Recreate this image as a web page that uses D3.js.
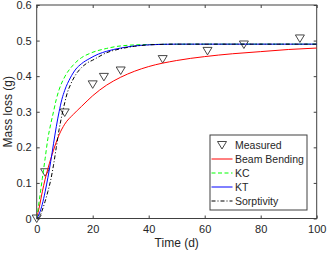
<!DOCTYPE html>
<html>
<head>
<meta charset="utf-8">
<script src="https://cdn.jsdelivr.net/npm/d3@7"></script>
<style>
  body { margin: 0; background: #fff; }
  svg { display: block; font-family: "Liberation Sans", Arial, sans-serif; }
</style>
</head>
<body>
<div id="chart"></div>
<script>
// Measured mass loss
var measuredTime = [0, 3, 10, 20, 24, 30, 45, 61, 74, 94];
var measuredLoss = [0, 0.13, 0.298, 0.377, 0.398, 0.416, 0.448, 0.471, 0.489, 0.506];

// Beam Bending model
var bbTime = [0, 1, 2, 3, 4, 5, 6, 8, 10, 13, 16, 20, 25, 30, 35, 40, 50, 60, 70, 80, 90, 100];
var bbLoss = [0, 0.035, 0.075, 0.11, 0.14, 0.167, 0.192, 0.235, 0.265, 0.292, 0.315, 0.345, 0.375, 0.397, 0.414, 0.427, 0.444, 0.455, 0.463, 0.469, 0.475, 0.479];

// KC model
var kcTime = [0, 1, 2, 3, 4, 5, 6, 7, 8, 10, 13, 16, 19, 25, 30, 40, 60, 100];
var kcLoss = [0, 0.055, 0.112, 0.168, 0.225, 0.265, 0.3, 0.335, 0.362, 0.398, 0.431, 0.452, 0.464, 0.478, 0.485, 0.489, 0.49, 0.49];

// KT model
var ktTime = [0, 1, 2, 3, 4, 5, 6, 7, 8, 9, 10, 12, 14, 16, 19, 22, 25, 30, 35, 40, 50, 100];
var ktLoss = [0, 0.015, 0.04, 0.075, 0.115, 0.16, 0.21, 0.258, 0.3, 0.335, 0.36, 0.395, 0.42, 0.435, 0.45, 0.462, 0.47, 0.479, 0.485, 0.488, 0.49, 0.49];

// Sorptivity model
var sorTime = [0, 1, 2, 3, 4, 5, 6, 7, 8, 9, 10, 11, 12, 14, 16, 18, 20, 25, 30, 35, 40, 50, 100];
var sorLoss = [0, 0.005, 0.024, 0.048, 0.076, 0.108, 0.15, 0.2, 0.25, 0.29, 0.325, 0.355, 0.375, 0.405, 0.424, 0.437, 0.445, 0.466, 0.477, 0.484, 0.488, 0.49, 0.49];

var xTicks = [0, 20, 40, 60, 80, 100];
var yTicks = [0, 0.1, 0.2, 0.3, 0.4, 0.5, 0.6];

var W = 327, H = 256;
var margin = { top: 5, right: 10.3, bottom: 37.5, left: 36.7 };
var width = W - margin.left - margin.right,
  height = H - margin.top - margin.bottom;

var svg = d3
  .select("#chart")
  .append("svg")
  .attr("width", W)
  .attr("height", H);

var g = svg.append("g").attr("transform", "translate(" + margin.left + "," + margin.top + ")");

var x = d3.scaleLinear().domain([0, 100]).range([0, width]);
var y = d3.scaleLinear().domain([0, 0.6]).range([height, 0]);

var axisColor = "#404040";

// axes with inward ticks (box style)
function styleAxis(sel) {
  sel.select(".domain").remove();
  sel.selectAll("line").attr("stroke", axisColor);
  sel.selectAll("text").attr("fill", "#262626").style("font-size", "11px");
}

g.append("g")
  .attr("transform", "translate(0," + height + ")")
  .call(d3.axisBottom(x).tickValues(xTicks).tickSizeInner(-3).tickSizeOuter(0).tickPadding(7))
  .call(styleAxis);

g.append("g")
  .call(d3.axisTop(x).tickValues(xTicks).tickSizeInner(-3).tickSizeOuter(0).tickFormat(""))
  .call(styleAxis);

g.append("g")
  .call(d3.axisLeft(y).tickValues(yTicks).tickSizeInner(-3).tickSizeOuter(0).tickPadding(5)
    .tickFormat(function(d) { return d === 0 ? "0" : d3.format(".1f")(d); }))
  .call(styleAxis);

g.append("g")
  .attr("transform", "translate(" + width + ",0)")
  .call(d3.axisRight(y).tickValues(yTicks).tickSizeInner(-3).tickSizeOuter(0).tickFormat(""))
  .call(styleAxis);

g.append("rect")
  .attr("width", width)
  .attr("height", height)
  .attr("fill", "none")
  .attr("stroke", axisColor)
  .attr("stroke-width", 1);

// clip for curves
svg.append("defs").append("clipPath").attr("id", "clip")
  .append("rect").attr("width", width).attr("height", height);

// measured triangles
var tri = "M-4.5,-3.5L4.5,-3.5L0,4Z";
g.selectAll(".meas")
  .data(measuredTime)
  .enter()
  .append("path")
  .attr("class", "meas")
  .attr("d", tri)
  .attr("transform", function(d, i) {
    return "translate(" + x(d) + "," + y(measuredLoss[i]) + ")";
  })
  .attr("fill", "none")
  .attr("stroke", "#333")
  .attr("stroke-width", 0.9);

var line = d3.line()
  .x(function(d) { return x(d[0]); })
  .y(function(d) { return y(d[1]); })
  .curve(d3.curveMonotoneX);

var series = [
  { name: "Beam Bending", t: bbTime, v: bbLoss, color: "#ff0000", dash: null },
  { name: "KC", t: kcTime, v: kcLoss, color: "#00ff00", dash: "4,2.5" },
  { name: "KT", t: ktTime, v: ktLoss, color: "#0000ff", dash: null },
  { name: "Sorptivity", t: sorTime, v: sorLoss, color: "#000000", dash: "4,2,1,2" }
];

series.forEach(function(s) {
  g.append("path")
    .datum(s.t.map(function(t, i) { return [t, s.v[i]]; }))
    .attr("clip-path", "url(#clip)")
    .attr("d", line)
    .attr("fill", "none")
    .attr("stroke", s.color)
    .attr("stroke-width", 1)
    .attr("stroke-dasharray", s.dash);
});

// axis titles
svg.append("text")
  .text("Time (d)")
  .attr("x", margin.left + width / 2)
  .attr("y", 247)
  .attr("text-anchor", "middle")
  .attr("fill", "#262626")
  .style("font-size", "12px");

svg.append("text")
  .text("Mass loss (g)")
  .attr("transform", "translate(12," + (margin.top + height / 2) + ") rotate(-90)")
  .attr("text-anchor", "middle")
  .attr("fill", "#262626")
  .style("font-size", "12px");

// legend
var lg = svg.append("g").attr("transform", "translate(210,135)");
lg.append("rect")
  .attr("width", 97)
  .attr("height", 75)
  .attr("fill", "#fff")
  .attr("stroke", axisColor);

var legendItems = [{ name: "Measured", marker: true }].concat(series);
legendItems.forEach(function(d, i) {
  var cy = 10 + i * 14;
  if (d.marker) {
    lg.append("path")
      .attr("d", tri)
      .attr("transform", "translate(12," + cy + ")")
      .attr("fill", "none")
      .attr("stroke", "#333")
      .attr("stroke-width", 0.9);
  } else {
    lg.append("line")
      .attr("x1", 1.5).attr("x2", 22.5)
      .attr("y1", cy).attr("y2", cy)
      .attr("stroke", d.color)
      .attr("stroke-width", 1)
      .attr("stroke-dasharray", d.dash);
  }
  lg.append("text")
    .text(d.name)
    .attr("x", 25)
    .attr("y", cy + 4)
    .attr("fill", "#262626")
    .style("font-size", "10.5px");
});
</script>
</body>
</html>
